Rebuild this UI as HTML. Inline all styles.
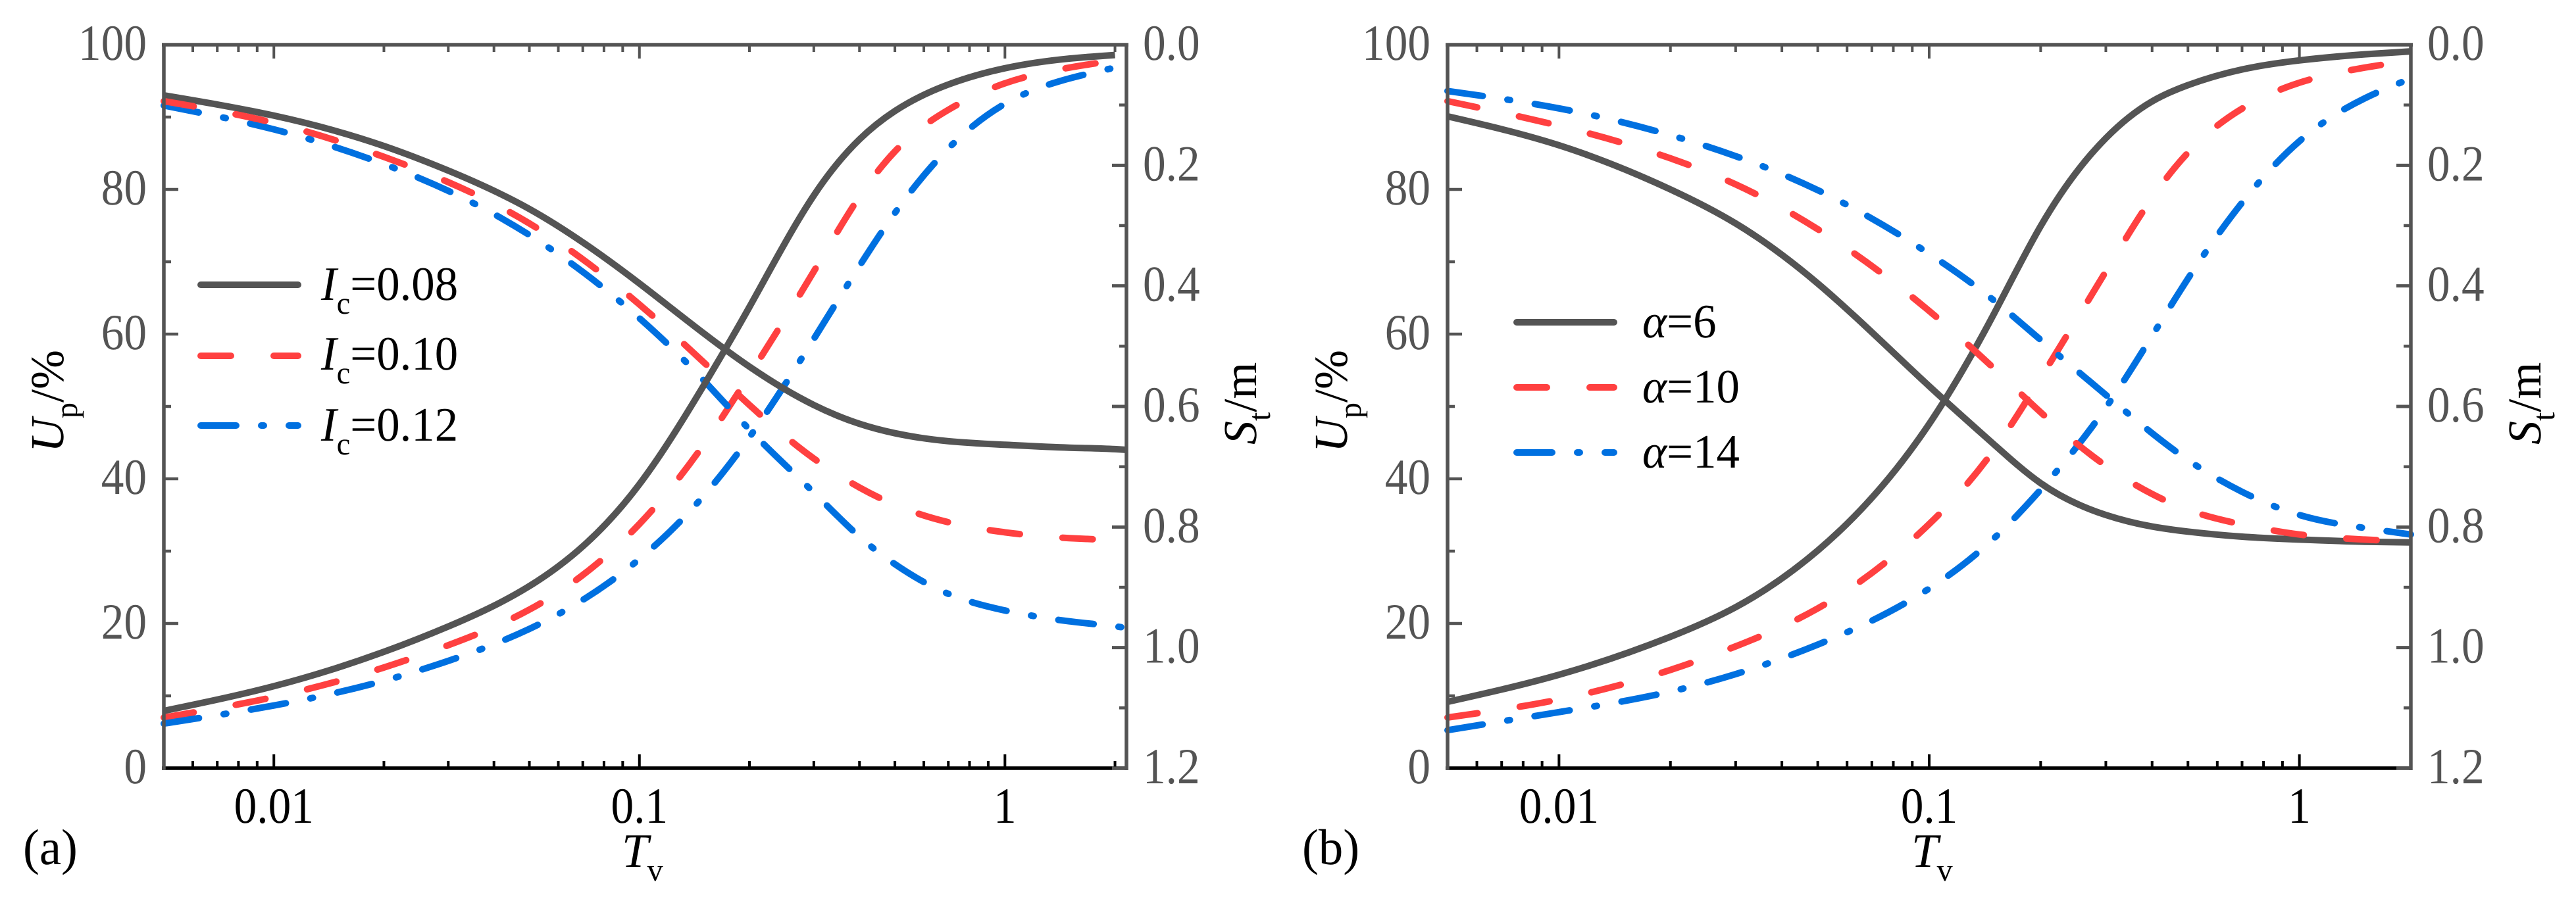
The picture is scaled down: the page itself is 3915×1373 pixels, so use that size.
<!DOCTYPE html>
<html lang="en">
<head>
<meta charset="utf-8">
<title>Consolidation curves</title>
<style>
html,body{margin:0;padding:0;background:#fff;}
svg{display:block;font-family:"Liberation Serif","DejaVu Serif",serif;text-rendering:geometricPrecision;}
</style>
</head>
<body>
<svg id="fig" xmlns="http://www.w3.org/2000/svg" width="3915" height="1373" viewBox="0 0 3915 1373">
<rect width="3915" height="1373" fill="#fff"/>
<g id="panelA"></g>
<g id="panelB"></g>

<g>
<text transform="translate(35,1314) scale(.97,1)" font-size="77">(a)</text>
<text transform="translate(945,1318)" font-size="73"><tspan font-style="italic">T</tspan><tspan dx="-2" dy="21" font-size="48">v</tspan></text>
<text transform="translate(96,688) rotate(-90)" font-size="72"><tspan font-style="italic">U</tspan><tspan dy="21" font-size="48">p</tspan><tspan dy="-21">/%</tspan></text>
<text transform="translate(1909,676) rotate(-90)" font-size="72"><tspan font-style="italic">S</tspan><tspan dy="21" font-size="48">t</tspan><tspan dy="-21">/m</tspan></text>
<text transform="translate(488,456) scale(.97,1)" font-size="73"><tspan font-style="italic">I</tspan><tspan dy="21" font-size="48">c</tspan><tspan dy="-21">=0.08</tspan></text>
<text transform="translate(488,562) scale(.97,1)" font-size="73"><tspan font-style="italic">I</tspan><tspan dy="21" font-size="48">c</tspan><tspan dy="-21">=0.10</tspan></text>
<text transform="translate(488,670) scale(.97,1)" font-size="73"><tspan font-style="italic">I</tspan><tspan dy="21" font-size="48">c</tspan><tspan dy="-21">=0.12</tspan></text>
</g>

<g>
<text transform="translate(1979,1314) scale(.97,1)" font-size="77">(b)</text>
<text transform="translate(2905,1318)" font-size="73"><tspan font-style="italic">T</tspan><tspan dx="-2" dy="21" font-size="48">v</tspan></text>
<text transform="translate(2047,688) rotate(-90)" font-size="72"><tspan font-style="italic">U</tspan><tspan dy="21" font-size="48">p</tspan><tspan dy="-21">/%</tspan></text>
<text transform="translate(3861,676) rotate(-90)" font-size="72"><tspan font-style="italic">S</tspan><tspan dy="21" font-size="48">t</tspan><tspan dy="-21">/m</tspan></text>
<text transform="translate(2496,513) scale(.97,1)" font-size="73"><tspan font-style="italic">α</tspan>=6</text>
<text transform="translate(2496,612) scale(.97,1)" font-size="73"><tspan font-style="italic">α</tspan>=10</text>
<text transform="translate(2496,711) scale(.97,1)" font-size="73"><tspan font-style="italic">α</tspan>=14</text>
</g>
</svg>

<script>
/* ---------- shared axis data ---------- */
const tvValues = [0.005,0.01,0.02,0.03,0.05,0.1,0.15,0.2,0.3,0.4,0.5,0.7,1,1.5,2];
const tvValuesExtended = [0.005,0.01,0.02,0.03,0.05,0.1,0.15,0.2,0.3,0.4,0.5,0.7,1,1.5,2,2.15];
const xMajorTicks = [0.01,0.1,1];
const xMinorTicks = [0.006,0.007,0.008,0.009,0.02,0.03,0.04,0.05,0.06,0.07,0.08,0.09,0.2,0.3,0.4,0.5,0.6,0.7,0.8,0.9,2];
const xTickLabels = ["0.01","0.1","1"];
const upMajorTicks = [0,20,40,60,80,100];
const upMinorTicks = [10,30,50,70,90];
const upTickLabels = ["0","20","40","60","80","100"];
const stMajorTicks = [0,0.2,0.4,0.6,0.8,1.0,1.2];
const stMinorTicks = [0.1,0.3,0.5,0.7,0.9,1.1];
const stTickLabels = ["0.0","0.2","0.4","0.6","0.8","1.0","1.2"];

/* ---------- panel (a) series ---------- */
const upA008 = [93.0,90.2,86.0,82.6,77.3,67.0,60.1,55.5,50.2,47.6,46.3,45.2,44.7,44.3,44.1,44.0];
const upA010 = [92.2,89.2,84.5,81.0,75.3,64.1,56.1,50.2,42.8,38.8,36.4,34.0,32.6,31.8,31.5,31.4];
const upA012 = [91.6,88.3,83.5,79.8,73.7,62.2,53.6,46.8,38.1,32.0,28.2,24.1,21.8,20.3,19.6,19.4];
const stA008 = [1.105,1.064,1.007,0.965,0.898,0.729,0.565,0.435,0.250,0.157,0.110,0.066,0.039,0.023,0.017];
const stA010 = [1.116,1.082,1.033,0.996,0.937,0.795,0.663,0.548,0.376,0.252,0.177,0.108,0.064,0.038,0.026];
const stA012 = [1.126,1.096,1.055,1.022,0.969,0.853,0.748,0.651,0.488,0.367,0.279,0.172,0.098,0.056,0.038];

/* ---------- panel (b) series ---------- */
const upB6  = [90.1,86.1,80.0,75.3,67.0,52.8,44.7,39.4,35.0,33.4,32.7,32.0,31.6,31.3,31.2];
const upB10 = [92.2,88.8,84.3,80.7,74.5,63.2,55.2,49.2,41.8,37.9,35.7,33.7,32.3,31.6,31.3];
const upB14 = [93.6,91.2,87.5,84.6,79.9,71.1,64.6,59.2,51.6,46.3,42.6,38.2,35.0,33.2,32.3];
const stB6  = [1.090,1.045,0.982,0.933,0.839,0.629,0.445,0.301,0.155,0.094,0.067,0.041,0.026,0.016,0.011];
const stB10 = [1.116,1.086,1.037,0.998,0.935,0.795,0.671,0.553,0.376,0.254,0.179,0.106,0.063,0.038,0.026];
const stB14 = [1.137,1.107,1.073,1.044,0.995,0.902,0.818,0.738,0.602,0.483,0.388,0.262,0.160,0.089,0.056];

/* ---------- style constants ---------- */
const NS = 'http://www.w3.org/2000/svg';
const GRAY = '#545454';
const RED = '#ff4040';
const BLUE = '#0070e0';
const DASH_RED = '46 65';
const DASH_BLUE = '54 38 4 38';
const Y_TOP = 68;
const Y_BOTTOM = 1168;

function mk(tag, attrs, name, parent) {
  const el = document.createElementNS(NS, tag);
  for (const k in attrs) el.setAttribute(k, attrs[k]);
  
  
  parent.appendChild(el);
  return el;
}

/* natural cubic spline through the points, emitted as Bezier segments */
function splinePath(pts) {
  const n = pts.length;
  const h = [], s = [];
  for (let i = 0; i < n - 1; i++) {
    h[i] = pts[i + 1][0] - pts[i][0];
    s[i] = (pts[i + 1][1] - pts[i][1]) / h[i];
  }
  const c = new Array(n).fill(0), dd = new Array(n).fill(0), M = new Array(n).fill(0);
  for (let i = 1; i < n - 1; i++) {
    const a = h[i - 1];
    const b = 2 * (h[i - 1] + h[i]);
    const r = 6 * (s[i] - s[i - 1]);
    const w = b - a * c[i - 1];
    c[i] = h[i] / w;
    dd[i] = (r - a * dd[i - 1]) / w;
  }
  for (let i = n - 2; i >= 1; i--) M[i] = dd[i] - c[i] * M[i + 1];
  let d = 'M' + pts[0][0].toFixed(2) + ' ' + pts[0][1].toFixed(2);
  for (let i = 0; i < n - 1; i++) {
    const t0 = s[i] - h[i] * (2 * M[i] + M[i + 1]) / 6;
    const t1 = s[i] + h[i] * (M[i] + 2 * M[i + 1]) / 6;
    const q = h[i] / 3;
    d += 'C' + (pts[i][0] + q).toFixed(2) + ' ' + (pts[i][1] + t0 * q).toFixed(2) + ' ' +
         (pts[i + 1][0] - q).toFixed(2) + ' ' + (pts[i + 1][1] - t1 * q).toFixed(2) + ' ' +
         pts[i + 1][0].toFixed(2) + ' ' + pts[i + 1][1].toFixed(2);
  }
  return d;
}

function tickLabel(parent, x, y, anchor, text, fill, name) {
  const el = mk('text', {
    transform: 'translate(' + x + ',' + y + ') scale(.9,1)',
    'font-size': 77, 'text-anchor': anchor, fill: fill
  }, name, parent);
  el.textContent = text;
}

function drawPanel(cfg) {
  const root = document.getElementById(cfg.id);
  const logMin = Math.log10(cfg.domain[0]);
  const logMax = Math.log10(cfg.domain[1]);
  const xScale = t => cfg.left + (Math.log10(t) - logMin) / (logMax - logMin) * (cfg.right - cfg.left);
  const upScale = v => Y_BOTTOM - v / 100 * (Y_BOTTOM - Y_TOP);
  const stScale = v => Y_TOP + v / 1.2 * (Y_BOTTOM - Y_TOP);

  /* series */
  const seriesGroup = mk('g', {fill: 'none', 'stroke-width': 10}, cfg.id + '-series', root);
  cfg.series.forEach(sr => {
    const scale = sr.axis === 'up' ? upScale : stScale;
    const pts = sr.values.map((v, i) => [xScale(sr.t[i]), scale(v)]);
    const attrs = {d: splinePath(pts), stroke: sr.color};
    if (sr.dash) {
      attrs['stroke-dasharray'] = sr.dash;
      attrs['stroke-linecap'] = 'round';
    }
    mk('path', attrs, sr.name, seriesGroup);
  });

  /* top ticks + bottom ticks */
  const axisGroup = mk('g', {}, cfg.id + '-axes', root);
  xMinorTicks.forEach(t => {
    const x = xScale(t);
    mk('line', {x1: x, x2: x, y1: Y_TOP, y2: Y_TOP + 11, stroke: GRAY, 'stroke-width': 4}, 'x-minor-tick-top', axisGroup);
    mk('line', {x1: x, x2: x, y1: Y_BOTTOM, y2: Y_BOTTOM - 11, stroke: '#000', 'stroke-width': 4}, 'x-minor-tick-bottom', axisGroup);
  });
  xMajorTicks.forEach((t, i) => {
    const x = xScale(t);
    mk('line', {x1: x, x2: x, y1: Y_TOP, y2: Y_TOP + 21, stroke: GRAY, 'stroke-width': 4}, 'x-major-tick-top', axisGroup);
    mk('line', {x1: x, x2: x, y1: Y_BOTTOM, y2: Y_BOTTOM - 21, stroke: '#000', 'stroke-width': 4}, 'x-major-tick-bottom', axisGroup);
    tickLabel(axisGroup, x, 1251, 'middle', xTickLabels[i], '#000', 'x-tick-label');
  });

  /* left axis ticks */
  upMinorTicks.forEach(v => {
    const y = upScale(v);
    mk('line', {x1: cfg.left, x2: cfg.left + 11, y1: y, y2: y, stroke: GRAY, 'stroke-width': 4.5}, 'left-minor-tick', axisGroup);
  });
  upMajorTicks.forEach((v, i) => {
    const y = upScale(v);
    mk('line', {x1: cfg.left, x2: cfg.left + 22, y1: y, y2: y, stroke: GRAY, 'stroke-width': 4.5}, 'left-major-tick', axisGroup);
    tickLabel(axisGroup, cfg.left - 26, y + 23, 'end', upTickLabels[i], GRAY, 'left-tick-label');
  });

  /* bottom spine black, then gray frame over it */
  mk('line', {x1: cfg.left - 3, x2: cfg.right, y1: Y_BOTTOM, y2: Y_BOTTOM, stroke: '#000', 'stroke-width': 5.5}, 'bottom-spine', axisGroup);
  mk('line', {x1: cfg.left - 3, x2: cfg.right + 3, y1: Y_TOP, y2: Y_TOP, stroke: GRAY, 'stroke-width': 5.5}, 'top-spine', axisGroup);
  mk('line', {x1: cfg.left, x2: cfg.left, y1: Y_TOP, y2: Y_BOTTOM + 3, stroke: GRAY, 'stroke-width': 5.5}, 'left-spine', axisGroup);
  mk('line', {x1: cfg.right, x2: cfg.right, y1: Y_TOP, y2: Y_BOTTOM + 3, stroke: GRAY, 'stroke-width': 5.5}, 'right-spine', axisGroup);

  /* right axis ticks */
  stMinorTicks.forEach(v => {
    const y = stScale(v);
    mk('line', {x1: cfg.right, x2: cfg.right - 11, y1: y, y2: y, stroke: GRAY, 'stroke-width': 4.5}, 'right-minor-tick', axisGroup);
  });
  stMajorTicks.forEach((v, i) => {
    const y = stScale(v);
    mk('line', {x1: cfg.right, x2: cfg.right - 22, y1: y, y2: y, stroke: GRAY, 'stroke-width': 5}, 'right-major-tick', axisGroup);
    tickLabel(axisGroup, cfg.right + 25, y + 23, 'start', stTickLabels[i], GRAY, 'right-tick-label');
  });

  /* legend samples */
  const legendGroup = mk('g', {fill: 'none', 'stroke-width': 10, 'stroke-linecap': 'round'}, cfg.id + '-legend', root);
  cfg.legend.forEach(lg => {
    const attrs = {x1: cfg.legendX, x2: cfg.legendX + 148, y1: lg.y, y2: lg.y, stroke: lg.color};
    if (lg.dash) attrs['stroke-dasharray'] = lg.dash;
    mk('line', attrs, lg.name, legendGroup);
  });
}

drawPanel({
  id: 'panelA', left: 249, right: 1712, domain: [0.005, 2.15], legendX: 305,
  series: [
    {name: 'st-curve-ic-010', axis: 'st', t: tvValues, values: stA010, color: RED, dash: DASH_RED},
    {name: 'st-curve-ic-012', axis: 'st', t: tvValues, values: stA012, color: BLUE, dash: DASH_BLUE},
    {name: 'up-curve-ic-012', axis: 'up', t: tvValuesExtended, values: upA012, color: BLUE, dash: DASH_BLUE},
    {name: 'st-curve-ic-008', axis: 'st', t: tvValues, values: stA008, color: GRAY},
    {name: 'up-curve-ic-008', axis: 'up', t: tvValuesExtended, values: upA008, color: GRAY},
    {name: 'up-curve-ic-010', axis: 'up', t: tvValuesExtended, values: upA010, color: RED, dash: DASH_RED}
  ],
  legend: [
    {name: 'legend-line-ic-008', y: 433, color: GRAY},
    {name: 'legend-line-ic-010', y: 541, color: RED, dash: DASH_RED},
    {name: 'legend-line-ic-012', y: 647, color: BLUE, dash: DASH_BLUE}
  ]
});

drawPanel({
  id: 'panelB', left: 2200, right: 3664, domain: [0.005, 2], legendX: 2305,
  series: [
    {name: 'st-curve-alpha-10', axis: 'st', t: tvValues, values: stB10, color: RED, dash: DASH_RED},
    {name: 'st-curve-alpha-14', axis: 'st', t: tvValues, values: stB14, color: BLUE, dash: DASH_BLUE},
    {name: 'up-curve-alpha-14', axis: 'up', t: tvValues, values: upB14, color: BLUE, dash: DASH_BLUE},
    {name: 'st-curve-alpha-6', axis: 'st', t: tvValues, values: stB6, color: GRAY},
    {name: 'up-curve-alpha-6', axis: 'up', t: tvValues, values: upB6, color: GRAY},
    {name: 'up-curve-alpha-10', axis: 'up', t: tvValues, values: upB10, color: RED, dash: DASH_RED}
  ],
  legend: [
    {name: 'legend-line-alpha-6', y: 490, color: GRAY},
    {name: 'legend-line-alpha-10', y: 589, color: RED, dash: DASH_RED},
    {name: 'legend-line-alpha-14', y: 688, color: BLUE, dash: DASH_BLUE}
  ]
});
</script>
</body>
</html>
